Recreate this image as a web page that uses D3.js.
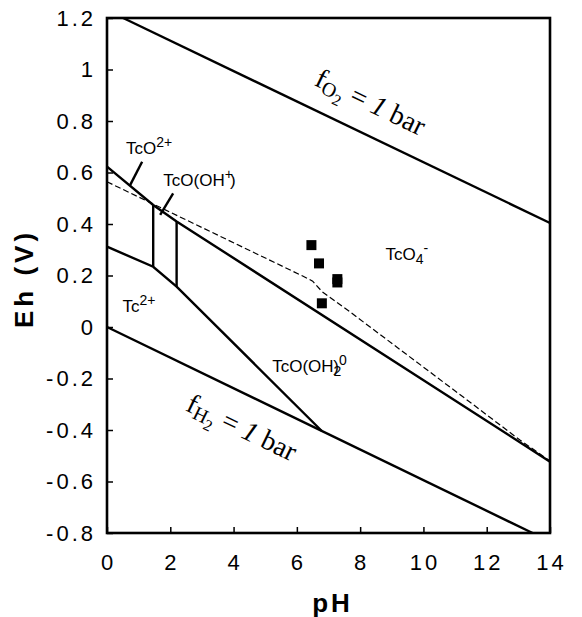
<!DOCTYPE html>
<html>
<head>
<meta charset="utf-8">
<script src="https://cdn.jsdelivr.net/npm/d3@7"></script>
<style>
  body { margin: 0; background: #fff; }
  .tick-label { font-family: Arial, "Liberation Sans", sans-serif; font-size: 22px; letter-spacing: 3px; fill: #000; }
  .axis-title { font-family: Arial, "Liberation Sans", sans-serif; font-size: 26px; font-weight: bold; letter-spacing: 3px; fill: #000; }
  .species { font-family: Arial, "Liberation Sans", sans-serif; font-size: 17px; fill: #000; }
  .fugacity { font-family: "Times New Roman", "Liberation Serif", serif; font-size: 28px; fill: #000; }
  .boundary { fill: none; stroke: #000; stroke-width: 2.4; }
  .dashed { fill: none; stroke: #000; stroke-width: 1.2; stroke-dasharray: 6,3; }
</style>
</head>
<body>
<svg id="chart" width="582" height="617"></svg>
<script>
// axis ticks
const phTicks = [0, 2, 4, 6, 8, 10, 12, 14];
const ehTicks = [1.2, 1, 0.8, 0.6, 0.4, 0.2, 0, -0.2, -0.4, -0.6, -0.8];
const ehTickLabels = ["1.2", "1", "0.8", "0.6", "0.4", "0.2", "0", "-0.2", "-0.4", "-0.6", "-0.8"];

// water stability limits [pH, Eh]
const o2Line = [[0.51, 1.2], [14, 0.404]];
const h2Line = [[0, 0], [13.45, -0.8]];

// species boundaries [pH, Eh]
const tco4Boundary = [[0, 0.623], [1.46, 0.474], [2.2, 0.41], [14, -0.523]];
const tc2Boundary = [[0, 0.312], [1.46, 0.234], [2.2, 0.157], [6.78, -0.403]];
const verticalBoundaries = [
  [[1.46, 0.474], [1.46, 0.234]],
  [[2.2, 0.41], [2.2, 0.157]]
];
const dashedBoundary = [[0, 0.564], [6.2, 0.197], [6.5, 0.178], [6.8, 0.137],
  [7.6, 0.066], [11.3, -0.276], [13.05, -0.439], [14, -0.52]];

// measured samples [pH, Eh]
const samples = [[6.46, 0.318], [6.7, 0.247], [7.28, 0.186], [7.28, 0.173], [6.79, 0.092]];

// leader lines from labels to boundary [pH, Eh]
const leaders = [
  [[1.11, 0.642], [0.73, 0.551]],
  [[2.09, 0.519], [1.68, 0.435]]
];

// species labels: position [pH, Eh] of the baseline start
const speciesLabels = [
  {pos: [0.6, 0.672], parts: [["TcO", 0], ["2+", "sup"]]},
  {pos: [1.78, 0.548], parts: [["TcO(OH", 0], ["+", "sup"], [")", "back"]]},
  {pos: [0.49, 0.058], parts: [["Tc", 0], ["2+", "sup"]]},
  {pos: [5.22, -0.175], parts: [["TcO(OH", 0], ["2", "sub"], [")", "backsub"], ["0", "sup2"]]},
  {pos: [8.8, 0.26], parts: [["TcO", 0], ["4", "sub"], ["-", "subsup"]]}
];

const margin = {top: 18, right: 32, bottom: 84, left: 107};
const width = 582 - margin.left - margin.right;
const height = 617 - margin.top - margin.bottom;

const svg = d3.select("#chart");
const main = svg.append("g").attr("transform", "translate(" + margin.left + "," + margin.top + ")");

const x = d3.scaleLinear().domain([0, 14]).range([0, width]);
const y = d3.scaleLinear().domain([-0.8, 1.2]).range([height, 0]);

const line = d3.line().x(d => x(d[0])).y(d => y(d[1]));

/**
 * Frame and inward ticks
 */
function renderAxes() {
  main.append("g")
    .attr("transform", "translate(0," + height + ")")
    .call(d3.axisBottom(x).tickValues(phTicks).tickSizeInner(-6).tickSizeOuter(0).tickFormat(""))
    .call(g => g.select(".domain").remove())
    .selectAll("line").attr("stroke-width", 1.5);

  main.append("g")
    .call(d3.axisLeft(y).tickValues(ehTicks).tickSizeInner(-6).tickSizeOuter(0).tickFormat(""))
    .call(g => g.select(".domain").remove())
    .selectAll("line").attr("stroke-width", 1.5);

  main.append("rect")
    .attr("width", width)
    .attr("height", height)
    .attr("fill", "none")
    .attr("stroke", "#000")
    .attr("stroke-width", 2.6);

  main.selectAll(".x-label").data(phTicks).enter()
    .append("text")
    .attr("class", "tick-label")
    .attr("text-anchor", "middle")
    .attr("x", d => x(d) + 1.5)
    .attr("y", height + 37)
    .text(d => d);

  main.selectAll(".y-label").data(ehTicks).enter()
    .append("text")
    .attr("class", "tick-label")
    .attr("text-anchor", "end")
    .attr("x", -11)
    .attr("y", d => y(d))
    .attr("dy", "0.36em")
    .text((d, i) => ehTickLabels[i]);

  main.append("text")
    .attr("class", "axis-title")
    .attr("text-anchor", "middle")
    .attr("x", width / 2 + 4)
    .attr("y", height + 79)
    .text("pH");

  main.append("text")
    .attr("class", "axis-title")
    .attr("text-anchor", "middle")
    .attr("transform", "translate(" + (33 - margin.left) + "," + (height / 2 + 3) + ") rotate(-90)")
    .style("font-size", "26px")
    .style("letter-spacing", "4px")
    .text("Eh (V)");
}

/**
 * Boundary lines, dashed line and samples
 */
function renderLines() {
  const plot = main.append("g");

  [o2Line, h2Line, tco4Boundary, tc2Boundary].concat(verticalBoundaries).forEach(pts => {
    plot.append("path").attr("class", "boundary").attr("d", line(pts));
  });

  plot.append("path").attr("class", "dashed").attr("d", line(dashedBoundary));

  leaders.forEach(pts => {
    plot.append("path").attr("class", "boundary").attr("stroke-width", 2).attr("d", line(pts));
  });

  plot.selectAll(".sample").data(samples).enter()
    .append("rect")
    .attr("class", "sample")
    .attr("x", d => x(d[0]) - 5)
    .attr("y", d => y(d[1]) - 5)
    .attr("width", 10)
    .attr("height", 10)
    .attr("fill", "#000");
}

/**
 * Species names with super/subscripts
 */
function renderSpecies() {
  speciesLabels.forEach(lab => {
    const t = main.append("text")
      .attr("class", "species")
      .attr("x", x(lab.pos[0]))
      .attr("y", y(lab.pos[1]));
    lab.parts.forEach(p => {
      const s = t.append("tspan").text(p[0]);
      if (p[1] === "sup") s.attr("dy", -7).style("font-size", "14px");
      if (p[1] === "sup2") s.attr("dy", -7).style("font-size", "14px");
      if (p[1] === "sub") s.attr("dy", 4).style("font-size", "14px");
      if (p[1] === "back") s.attr("dy", 7).attr("dx", -3);
      if (p[1] === "backsub") s.attr("dy", -4).attr("dx", -8);
      if (p[1] === "subsup") s.attr("dy", -11).style("font-size", "14px");
    });
  });
}

/**
 * Fugacity labels along water limits
 * @param {pts} line points, {ph} centre, {offset} perpendicular baseline offset
 */
function fugacityLabel(pts, ph, offset, gas) {
  const slope = (pts[1][1] - pts[0][1]) / (pts[1][0] - pts[0][0]);
  const eh = pts[0][1] + slope * (ph - pts[0][0]);
  const dx = x(pts[1][0]) - x(pts[0][0]);
  const dy = y(pts[1][1]) - y(pts[0][1]);
  const angle = Math.atan2(dy, dx) * 180 / Math.PI;

  const t = main.append("text")
    .attr("class", "fugacity")
    .attr("text-anchor", "middle")
    .attr("transform", "translate(" + x(ph) + "," + y(eh) + ") rotate(" + angle + ") translate(0," + offset + ")");
  t.append("tspan").text("f");
  t.append("tspan").attr("dy", 4).style("font-size", "20px").text(gas);
  t.append("tspan").attr("dy", 5).style("font-size", "16px").text("2");
  t.append("tspan").attr("dy", -9).text(" = ");
  t.append("tspan").style("font-style", "italic").text("1");
  t.append("tspan").text(" bar");
}

renderAxes();
renderLines();
renderSpecies();
fugacityLabel(o2Line, 7.9, -22, "O");
fugacityLabel(h2Line, 4.7, 41, "H");
</script>
</body>
</html>
